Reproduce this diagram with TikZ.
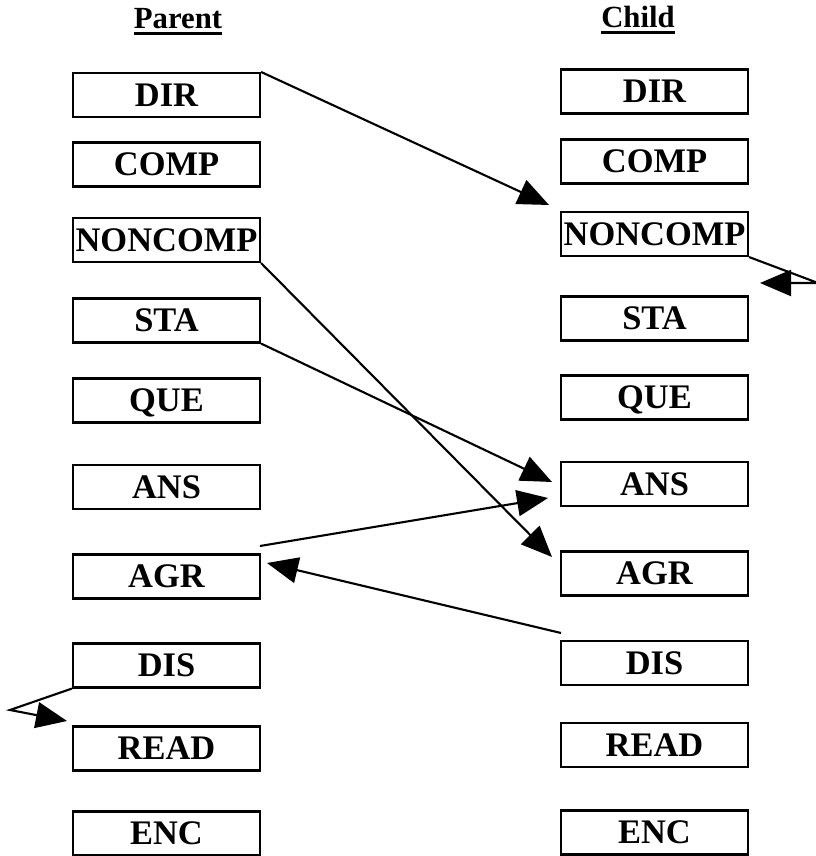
\documentclass[tikz,border=0pt]{standalone}
\usepackage{fontspec}
\setmainfont{Liberation Serif}
\usetikzlibrary{arrows.meta}

\newcommand{\headrule}[1]{\setbox0\hbox{#1}\rlap{\rule[-3.2pt]{\wd0}{1.3pt}}\box0}

\tikzset{
  lbl/.style={draw, minimum width=3.74cm, minimum height=0.88cm, inner sep=0pt,
    text height=13pt, text depth=0pt, font=\bfseries\fontsize{19.6}{22}\selectfont},
  head/.style={anchor=base, font=\bfseries\fontsize{17.5}{20}\selectfont},
  link/.style={-{Triangle[length=0.62cm, width=0.52cm]}}
}

\begin{document}
\begin{tikzpicture}[line width=1.2pt, black]
  \useasboundingbox (0,0) rectangle (16.3,17.12);
  % headings
  \node[head] (parent) at (3.56,16.54) {\headrule{Parent}};
  \node[head] (child) at (12.76,16.56) {\headrule{Child}};
  % parent column
  \node[lbl] (pDIR) at (3.33,15.22) {DIR};
  \node[lbl] (pCOMP) at (3.33,13.83) {COMP};
  \node[lbl] (pNONCOMP) at (3.33,12.32) {NONCOMP};
  \node[lbl] (pSTA) at (3.33,10.71) {STA};
  \node[lbl] (pQUE) at (3.33,9.11) {QUE};
  \node[lbl] (pANS) at (3.33,7.38) {ANS};
  \node[lbl] (pAGR) at (3.33,5.59) {AGR};
  \node[lbl] (pDIS) at (3.33,3.81) {DIS};
  \node[lbl] (pREAD) at (3.33,2.15) {READ};
  \node[lbl] (pENC) at (3.33,0.45) {ENC};
  % child column
  \node[lbl] (cDIR) at (13.09,15.29) {DIR};
  \node[lbl] (cCOMP) at (13.09,13.89) {COMP};
  \node[lbl] (cNONCOMP) at (13.09,12.44) {NONCOMP};
  \node[lbl] (cSTA) at (13.09,10.75) {STA};
  \node[lbl] (cQUE) at (13.09,9.17) {QUE};
  \node[lbl] (cANS) at (13.09,7.44) {ANS};
  \node[lbl] (cAGR) at (13.09,5.65) {AGR};
  \node[lbl] (cDIS) at (13.09,3.86) {DIS};
  \node[lbl] (cREAD) at (13.09,2.22) {READ};
  \node[lbl] (cENC) at (13.09,0.47) {ENC};
  % free ends
  \coordinate (dirTip) at (10.98,13.02);
  \coordinate (ncTurn) at (16.36,11.46);
  \coordinate (ncTip) at (15.20,11.46);
  \coordinate (staTip) at (11.04,7.48);
  \coordinate (noncTip) at (11.04,5.98);
  \coordinate (agrOut) at (5.20,6.20);
  \coordinate (agrTip) at (10.96,7.16);
  \coordinate (disOut) at (11.22,4.46);
  \coordinate (disTip) at (5.34,5.86);
  \coordinate (lpTurn) at (0.20,2.92);
  \coordinate (lpTip) at (1.34,2.70);
  % connectors
  \draw[link] (pDIR.north east) -- (dirTip);
  \draw[link] (cNONCOMP.south east) -- (ncTurn) -- (ncTip);
  \draw[link] (pSTA.south east) -- (staTip);
  \draw[link] (pNONCOMP.south east) -- (noncTip);
  \draw[link] (agrOut) -- (agrTip);
  \draw[link] (disOut) -- (disTip);
  \draw[link] (pDIS.south west) -- (lpTurn) -- (lpTip);
\end{tikzpicture}
\end{document}
